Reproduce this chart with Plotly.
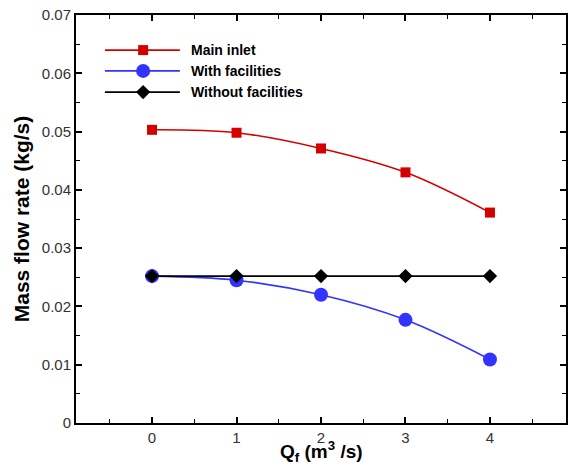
import plotly.graph_objects as go

x_vals = [0, 1, 2, 3, 4]
main_inlet = [0.0503, 0.0498, 0.0471, 0.0430, 0.0361]
with_fac = [0.0252, 0.0245, 0.0220, 0.0177, 0.0109]
without_fac = [0.0252, 0.0252, 0.0252, 0.0252, 0.0252]
names = ["Main inlet", "With facilities", "Without facilities"]
colors = ["#d40000", "#3333ff", "#000000"]
symbols = ["square", "circle", "diamond"]
msizes = [10, 14, 11]
series = [main_inlet, with_fac, without_fac]

fig = go.Figure()
for s, n, c, sym, ms in zip(series, names, colors, symbols, msizes):
    fig.add_trace(go.Scatter(x=x_vals, y=s, name=n, mode="lines+markers",
                             line=dict(color=c, width=1.6, shape="spline"),
                             marker=dict(symbol=sym, size=ms, color=c),
                             showlegend=False))

# manual legend
font = "Liberation Sans, Arial, sans-serif"
row_y = [0.914, 0.863, 0.811]
x0, x1, xm = 0.059, 0.212, 0.137
for i, (n, c, sym) in enumerate(zip(names, colors, symbols)):
    y = row_y[i]
    fig.add_shape(type="line", xref="paper", yref="paper", x0=x0, x1=x1, y0=y, y1=y,
                  line=dict(color=c, width=1.6))
    fig.add_trace(go.Scatter(x=[xm], y=[y], xaxis="x2", yaxis="y2", mode="markers",
                             marker=dict(symbol=sym, size=msizes[i], color=c),
                             showlegend=False, hoverinfo="skip"))
    fig.add_annotation(xref="paper", yref="paper", x=0.23, y=y, text="<b>" + n + "</b>",
                       showarrow=False, xanchor="left", yanchor="middle",
                       font=dict(family=font, size=14, color="#000"))

# x-axis title as annotation for precise placement
fig.add_annotation(xref="paper", yref="paper", x=0.5, y=-0.106, yanchor="bottom",
                   xanchor="center", showarrow=False, borderpad=0,
                   text="<b>Q<sub>f</sub> (m<sup>3</sup> /s)</b>",
                   font=dict(family=font, size=19, color="black"))

axis_common = dict(showline=True, linecolor="black", linewidth=2, mirror="ticks",
                   ticks="inside", ticklen=6, tickwidth=1.5, tickcolor="black",
                   showgrid=False, zeroline=False, automargin=False,
                   tickfont=dict(family=font, size=15, color="#333"))

fig.update_layout(
    width=572, height=468,
    margin=dict(l=76, r=6, t=15, b=45),
    plot_bgcolor="white", paper_bgcolor="white",
    xaxis=dict(range=[-0.9, 4.9], tickvals=[0, 1, 2, 3, 4], ticklabelstandoff=0,
               minor=dict(tickvals=[-0.5, 0.5, 1.5, 2.5, 3.5, 4.5], ticks="inside",
                          ticklen=4, tickwidth=1.2, tickcolor="black"),
               **axis_common),
    yaxis=dict(range=[0, 0.07], tickvals=[0, 0.01, 0.02, 0.03, 0.04, 0.05, 0.06, 0.07],
               ticktext=["0", "0.01", "0.02", "0.03", "0.04", "0.05", "0.06", "0.07"],
               minor=dict(tickvals=[0.005, 0.015, 0.025, 0.035, 0.045, 0.055, 0.065],
                          ticks="inside", ticklen=4, tickwidth=1.2, tickcolor="black"),
               title=dict(text="<b>Mass flow rate (kg/s)</b>", standoff=6,
                          font=dict(family=font, size=21, color="black")),
               **axis_common),
    xaxis2=dict(domain=[0, 1], range=[0, 1], visible=False, overlaying="x", anchor="y2"),
    yaxis2=dict(domain=[0, 1], range=[0, 1], visible=False, overlaying="y", anchor="x2"),
)

fig.write_html("out.html")
